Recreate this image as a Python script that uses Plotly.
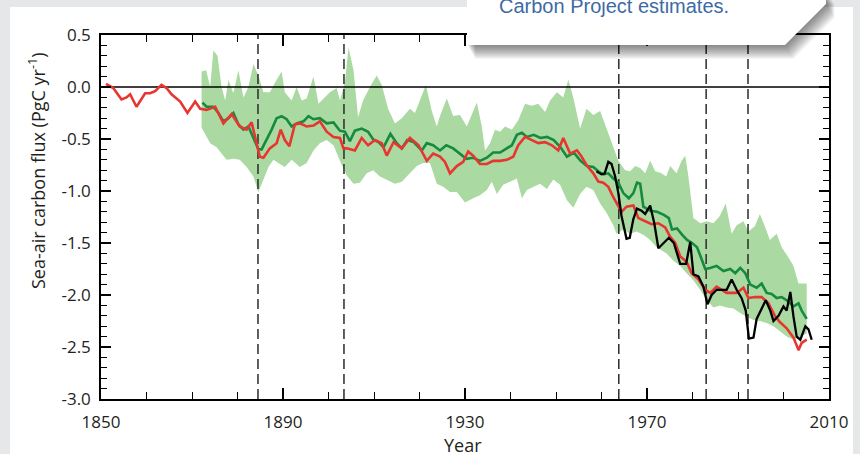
import plotly.graph_objects as go

# ---------------- data ----------------
# Ocean carbon flux estimates (PgC per year, negative = ocean uptake)
red_years = [
    1851.1, 1852.7, 1854.5, 1855.6, 1856.4, 1857.8, 1859.7, 1860.8, 1861.9, 1863.3,
    1864.4, 1865.5, 1867.4, 1869.0, 1870.7, 1871.8, 1873.2, 1875.1, 1876.9, 1878.7,
    1880.5, 1882.0, 1883.1, 1884.2, 1884.9, 1885.7, 1887.1, 1888.6, 1889.5, 1890.4,
    1891.4, 1892.6, 1893.7, 1895.2, 1896.7, 1898.1, 1899.6, 1901.1, 1902.5, 1903.3,
    1904.0, 1905.8, 1907.3, 1908.7, 1910.2, 1911.7, 1912.8, 1914.3, 1916.1, 1917.9,
    1919.8, 1921.6, 1923.0, 1924.5, 1925.6, 1926.7, 1928.2, 1929.6, 1930.7, 1931.8,
    1933.3, 1934.8, 1936.2, 1937.7, 1939.2, 1940.6, 1941.7, 1943.2, 1944.7, 1946.1,
    1947.6, 1949.1, 1950.5, 1951.6, 1953.1, 1954.6, 1955.5, 1956.7, 1958.2, 1959.3,
    1960.4, 1961.5, 1962.6, 1963.7, 1964.4, 1965.5, 1967.0, 1968.1, 1969.6, 1971.0,
    1972.5, 1974.0, 1975.1, 1976.2, 1977.3, 1978.7, 1979.8, 1981.3, 1982.8, 1983.9,
    1985.3, 1987.5, 1989.7, 1991.2, 1992.3, 1993.7, 1995.2, 1996.7, 1998.1, 1999.2,
    2000.7, 2002.2, 2003.3, 2004.0, 2005.1,
]
red_flux = [
    0.03, -0.01, -0.12, -0.10, -0.07, -0.19, -0.06, -0.06, -0.04, 0.02,
    -0.01, -0.07, -0.14, -0.25, -0.14, -0.21, -0.22, -0.19, -0.35, -0.26,
    -0.38, -0.41, -0.34, -0.54, -0.67, -0.68, -0.59, -0.54, -0.41, -0.51,
    -0.57, -0.36, -0.35, -0.38, -0.37, -0.33, -0.43, -0.48, -0.49, -0.59,
    -0.59, -0.61, -0.49, -0.56, -0.51, -0.54, -0.66, -0.53, -0.59, -0.49,
    -0.56, -0.71, -0.64, -0.67, -0.72, -0.83, -0.76, -0.72, -0.62, -0.66,
    -0.74, -0.74, -0.71, -0.71, -0.70, -0.67, -0.56, -0.48, -0.51, -0.54,
    -0.53, -0.56, -0.61, -0.49, -0.64, -0.61, -0.66, -0.75, -0.83, -0.91,
    -0.92, -0.96, -1.06, -1.15, -1.20, -1.15, -1.14, -1.26, -1.29, -1.32,
    -1.31, -1.35, -1.44, -1.50, -1.63, -1.68, -1.79, -1.85, -1.95, -1.98,
    -1.92, -1.98, -1.98, -1.93, -2.03, -2.02, -2.02, -2.08, -2.20, -2.26,
    -2.32, -2.41, -2.53, -2.46, -2.43,
]

green_years = [
    1872.3, 1873.2, 1874.7, 1875.8, 1876.9, 1878.0, 1879.1, 1880.2, 1881.3, 1882.4,
    1883.5, 1884.6, 1885.3, 1886.4, 1887.5, 1888.6, 1889.7, 1890.8, 1891.9, 1893.0,
    1894.5, 1895.6, 1896.7, 1898.1, 1899.6, 1901.1, 1902.5, 1903.6, 1904.7, 1905.8,
    1907.3, 1908.7, 1909.9, 1911.0, 1912.1, 1913.6, 1915.0, 1916.1, 1917.3, 1918.7,
    1920.5, 1921.6, 1923.0, 1924.5, 1925.9, 1927.4, 1928.9, 1930.3, 1931.8, 1933.3,
    1934.8, 1936.2, 1937.7, 1939.2, 1940.3, 1941.4, 1942.5, 1943.6, 1945.1, 1946.6,
    1948.0, 1949.5, 1951.0, 1952.4, 1953.9, 1955.4, 1956.8, 1958.2, 1959.3, 1960.4,
    1961.5, 1962.6, 1963.7, 1964.8, 1966.0, 1967.0, 1967.8, 1968.5, 1969.2, 1970.7,
    1972.2, 1973.7, 1974.8, 1975.5, 1976.6, 1977.7, 1978.8, 1979.9, 1981.0, 1981.7,
    1982.8, 1983.9, 1985.3, 1986.8, 1988.3, 1989.4, 1990.5, 1991.6, 1992.7, 1994.1,
    1995.2, 1996.3, 1997.4, 1998.5, 1999.6, 2000.7, 2002.2, 2003.3, 2004.0, 2005.1,
]
green_flux = [
    -0.15, -0.19, -0.19, -0.25, -0.33, -0.30, -0.25, -0.36, -0.41, -0.38,
    -0.49, -0.60, -0.60, -0.51, -0.41, -0.30, -0.28, -0.31, -0.38, -0.35,
    -0.33, -0.28, -0.31, -0.30, -0.35, -0.34, -0.42, -0.43, -0.52, -0.42,
    -0.40, -0.43, -0.51, -0.53, -0.58, -0.45, -0.54, -0.59, -0.51, -0.53,
    -0.61, -0.54, -0.56, -0.61, -0.56, -0.59, -0.64, -0.69, -0.68, -0.71,
    -0.68, -0.63, -0.63, -0.59, -0.56, -0.46, -0.44, -0.48, -0.46, -0.49,
    -0.48, -0.51, -0.58, -0.67, -0.63, -0.71, -0.76, -0.77, -0.81, -0.84,
    -0.83, -0.88, -0.92, -1.02, -1.07, -1.02, -0.92, -0.93, -1.15, -1.19,
    -1.20, -1.23, -1.26, -1.37, -1.36, -1.42, -1.47, -1.50, -1.54, -1.62,
    -1.75, -1.74, -1.72, -1.77, -1.75, -1.79, -1.74, -1.79, -1.90, -1.93,
    -1.89, -1.98, -1.99, -2.03, -2.02, -2.05, -2.11, -2.08, -2.15, -2.23,
]

black_years = [
    1958.9, 1960.0, 1960.7, 1961.5, 1962.2, 1963.0, 1963.7, 1964.4, 1965.5, 1966.2,
    1967.0, 1967.8, 1968.8, 1969.6, 1970.7, 1971.6, 1972.5, 1973.7, 1974.8, 1975.9,
    1977.3, 1978.6, 1979.5, 1980.2, 1981.3, 1982.4, 1983.3, 1984.2, 1985.3, 1986.8,
    1987.5, 1988.6, 1989.7, 1990.8, 1991.7, 1992.4, 1993.4, 1994.1, 1995.2, 1996.1,
    1997.1, 1997.8, 1998.9, 2000.0, 2000.7, 2001.5, 2002.2, 2002.9, 2003.7, 2004.8,
    2005.5, 2006.2,
]
black_flux = [
    -0.81, -0.84, -0.83, -0.72, -0.74, -0.86, -1.02, -1.24, -1.46, -1.45,
    -1.27, -1.17, -1.19, -1.22, -1.14, -1.31, -1.55, -1.50, -1.45, -1.50,
    -1.70, -1.70, -1.49, -1.80, -1.82, -1.92, -2.09, -2.00, -1.95, -1.95,
    -1.95, -1.85, -1.95, -2.03, -2.15, -2.42, -2.41, -2.23, -2.13, -2.05,
    -2.15, -2.25, -2.20, -2.11, -2.15, -1.97, -2.21, -2.40, -2.43, -2.30,
    -2.33, -2.43,
]

# Spread of the model ensemble (upper and lower envelope)
band_upper_years = [
    1872.1, 1873.1, 1874.0, 1874.7, 1875.6, 1876.5, 1877.3, 1878.0, 1879.1, 1880.2,
    1881.3, 1882.4, 1883.5, 1884.6, 1885.7, 1887.1, 1888.6, 1889.7, 1890.4, 1891.9,
    1893.0, 1894.1, 1895.2, 1896.7, 1897.8, 1898.9, 1900.3, 1901.8, 1902.5, 1903.6,
    1904.4, 1905.5, 1906.5, 1907.6, 1909.1, 1910.6, 1911.7, 1913.1, 1914.6, 1916.1,
    1917.9, 1919.0, 1920.1, 1921.4, 1922.7, 1923.8, 1924.5, 1926.0, 1927.4, 1928.9,
    1930.4, 1931.5, 1932.6, 1933.7, 1934.4, 1935.5, 1936.6, 1937.7, 1938.8, 1940.3,
    1941.7, 1943.2, 1944.7, 1946.1, 1947.6, 1948.7, 1950.2, 1951.6, 1952.7, 1953.8,
    1955.3, 1956.7, 1958.2, 1959.7, 1961.0, 1962.6, 1963.7, 1965.2, 1966.3, 1967.4,
    1968.5, 1969.6, 1970.7, 1971.8, 1973.2, 1974.2, 1975.1, 1976.5, 1977.6, 1978.4,
    1979.1, 1980.2, 1981.7, 1983.1, 1984.6, 1986.0, 1987.3, 1988.6, 1989.7, 1991.2,
    1992.3, 1993.7, 1994.8, 1995.9, 1997.0, 1998.5, 1999.6, 2001.1, 2002.2, 2003.3,
    2005.1,
]
band_upper = [
    0.15, 0.16, 0.00, 0.35, 0.30, 0.00, -0.13, 0.07, -0.06, 0.16,
    -0.10, 0.00, 0.22, 0.11, -0.05, -0.05, 0.07, 0.15, -0.05, -0.13,
    0.00, -0.13, -0.11, 0.10, -0.16, -0.11, -0.05, -0.01, -0.13, 0.04,
    0.38, 0.16, -0.29, -0.13, 0.00, 0.11, 0.02, -0.21, -0.35, -0.30,
    -0.21, -0.25, -0.13, 0.02, -0.23, -0.38, -0.28, -0.11, -0.28, -0.27,
    -0.38, -0.27, -0.15, -0.38, -0.61, -0.54, -0.41, -0.43, -0.38, -0.41,
    -0.32, -0.16, -0.18, -0.16, -0.24, -0.13, -0.05, -0.10, 0.07, -0.10,
    -0.40, -0.21, -0.27, -0.23, -0.39, -0.58, -0.71, -0.80, -0.81, -0.76,
    -0.78, -0.83, -0.71, -0.81, -0.83, -0.86, -0.76, -0.83, -0.71, -0.66,
    -0.86, -1.26, -1.31, -1.29, -1.31, -1.24, -1.12, -1.41, -1.33, -1.29,
    -1.39, -1.34, -1.22, -1.34, -1.47, -1.41, -1.54, -1.64, -1.72, -1.89,
    -1.89,
]
band_lower_years = [
    1872.1, 1873.2, 1874.0, 1875.4, 1876.5, 1877.6, 1879.1, 1880.5, 1882.0, 1883.5,
    1884.6, 1885.7, 1886.8, 1887.9, 1889.3, 1890.4, 1891.9, 1893.7, 1895.2, 1896.7,
    1898.1, 1899.6, 1901.1, 1902.5, 1904.0, 1905.5, 1906.9, 1908.4, 1909.8, 1911.3,
    1912.8, 1914.6, 1916.1, 1917.9, 1919.4, 1920.8, 1922.3, 1923.8, 1925.2, 1926.7,
    1928.2, 1930.0, 1931.8, 1933.3, 1934.8, 1935.9, 1937.0, 1938.4, 1939.9, 1941.4,
    1942.5, 1943.6, 1945.0, 1946.5, 1948.0, 1949.4, 1950.9, 1952.4, 1953.8, 1955.3,
    1956.7, 1958.2, 1959.7, 1961.1, 1962.6, 1963.3, 1964.8, 1966.3, 1967.7, 1969.2,
    1970.7, 1972.1, 1974.3, 1975.8, 1977.3, 1978.7, 1980.2, 1981.7, 1983.1, 1984.6,
    1986.0, 1987.5, 1989.0, 1990.4, 1991.9, 1993.4, 1994.8, 1996.3, 1997.8, 1999.2,
    2000.7, 2002.2, 2003.6, 2005.1,
]
band_lower = [
    -0.39, -0.48, -0.54, -0.58, -0.64, -0.70, -0.69, -0.70, -0.77, -0.86,
    -1.01, -0.89, -0.77, -0.70, -0.74, -0.77, -0.70, -0.77, -0.73, -0.61,
    -0.54, -0.51, -0.56, -0.71, -0.85, -0.93, -0.92, -0.83, -0.80, -0.86,
    -0.89, -0.93, -0.91, -0.83, -0.76, -0.73, -0.73, -0.93, -0.96, -1.01,
    -1.01, -1.11, -1.07, -1.04, -0.99, -0.91, -1.03, -0.94, -0.91, -0.88,
    -1.07, -0.99, -0.96, -0.93, -0.98, -0.89, -0.94, -1.09, -1.16, -1.03,
    -0.96, -0.99, -1.12, -1.21, -1.33, -1.41, -1.37, -1.41, -1.39, -1.42,
    -1.47, -1.54, -1.60, -1.67, -1.72, -1.79, -1.86, -1.95, -2.05, -2.12,
    -2.10, -2.12, -2.13, -2.17, -2.21, -2.24, -2.25, -2.27, -2.30, -2.35,
    -2.40, -2.43, -2.40, -2.37,
]

# Major volcanic eruptions marked with dashed lines
eruption_years = [1884.5, 1903.4, 1963.8, 1983.0, 1992.2]

x_range = [1850, 2010]
y_range = [-3.0, 0.5]
x_tick_vals = [1850, 1890, 1930, 1970, 2010]
x_tick_text = ["1850", "1890", "1930", "1970", "2010"]
y_tick_vals = [0.5, 0.0, -0.5, -1.0, -1.5, -2.0, -2.5, -3.0]
y_tick_text = ["0.5", "0.0", "-0.5", "-1.0", "-1.5", "-2.0", "-2.5", "-3.0"]

# ---------------- figure geometry ----------------
W, H = 860, 454
ML, MR, MT, MB = 101, 31, 35, 55
PW = W - ML - MR
PH = H - MT - MB


def fx(px):
    """Horizontal page pixel -> paper fraction."""
    return (px - ML) / PW


def fy(py):
    """Vertical page pixel (from top) -> paper fraction."""
    return (H - MB - py) / PH


RED = "#e8352f"
GREEN = "#168a3e"
BAND = "#aad9a2"
FONT = "Open Sans"

fig = go.Figure()

# ensemble envelope
fig.add_trace(go.Scatter(
    x=band_upper_years + band_lower_years[::-1],
    y=band_upper + band_lower[::-1],
    fill="toself", fillcolor=BAND, line=dict(width=0),
    mode="lines", hoverinfo="skip",
))

# eruption markers
for yr in eruption_years:
    fig.add_trace(go.Scatter(
        x=[yr, yr], y=y_range, mode="lines",
        line=dict(color="#2b2b2b", width=1.5, dash="10px,5px"),
        hoverinfo="skip",
    ))

# zero reference line
fig.add_trace(go.Scatter(
    x=x_range, y=[0, 0], mode="lines",
    line=dict(color="black", width=1.5), hoverinfo="skip",
))

fig.add_trace(go.Scatter(x=green_years, y=green_flux, mode="lines",
                         line=dict(color=GREEN, width=2.6)))
fig.add_trace(go.Scatter(x=red_years, y=red_flux, mode="lines",
                         line=dict(color=RED, width=2.6)))
fig.add_trace(go.Scatter(x=black_years, y=black_flux, mode="lines",
                         line=dict(color="black", width=2.3)))

axis_common = dict(
    ticks="inside", tickwidth=1.5, tickcolor="black",
    showline=True, linecolor="black", linewidth=1.5, mirror="ticks",
    showgrid=False, zeroline=False, tickmode="array",
    tickfont=dict(family=FONT, size=17, color="#231f20"),
)
fig.update_xaxes(
    range=x_range, tickvals=x_tick_vals, ticktext=x_tick_text, ticklen=11,
    ticklabelstandoff=7,
    minor=dict(tickmode="linear", tick0=1850, dtick=10, ticks="inside",
               ticklen=7, tickwidth=1.3, tickcolor="black", showgrid=False),
    **axis_common,
)
fig.update_yaxes(
    range=y_range, tickvals=y_tick_vals, ticktext=y_tick_text, ticklen=10,
    ticklabelstandoff=5,
    minor=dict(tickmode="linear", tick0=0, dtick=0.1, ticks="inside",
               ticklen=6, tickwidth=1.3, tickcolor="black", showgrid=False),
    **axis_common,
)

# white page panel and the callout box with its drop shadow
shapes = [dict(
    type="rect", xref="paper", yref="paper", layer="below",
    x0=fx(10), x1=fx(853), y0=fy(H + 5), y1=fy(7),
    fillcolor="white", line=dict(width=0),
)]

box_pts = [(467, -10), (467, 45), (785, 45), (826, 4), (826, -10)]


def box_path(dx, dy):
    pts = [(fx(x + dx), fy(y + dy)) for x, y in box_pts]
    return "M " + " L ".join(f"{a:.5f},{b:.5f}" for a, b in pts) + " Z"


for k in range(1, 15):
    shapes.append(dict(
        type="path", xref="paper", yref="paper", layer="above",
        path=box_path(0.6 * k, k), fillcolor="black", opacity=0.04,
        line=dict(width=0),
    ))
shapes.append(dict(
    type="path", xref="paper", yref="paper", layer="above",
    path=box_path(0, 0), fillcolor="white", line=dict(width=0),
))

annotations = [
    dict(text="Carbon Project estimates.", xref="paper", yref="paper",
         x=fx(497), y=fy(6), xanchor="left", yanchor="middle", showarrow=False,
         font=dict(family="Liberation Sans", size=20, color="#3d6ba3")),
    dict(text="Sea-air carbon flux (PgC yr<sup>-1</sup>)", xref="paper", yref="paper",
         x=fx(37), y=fy(171), xanchor="center", yanchor="middle", textangle=-90,
         showarrow=False, font=dict(family=FONT, size=18, color="#231f20")),
    dict(text="Year", xref="paper", yref="paper",
         x=fx(463), y=fy(445), xanchor="center", yanchor="middle",
         showarrow=False, font=dict(family=FONT, size=18, color="#231f20")),
]

fig.update_layout(
    width=W, height=H,
    margin=dict(l=ML, r=MR, t=MT, b=MB, autoexpand=False),
    paper_bgcolor="#e6e7e9", plot_bgcolor="white",
    showlegend=False, shapes=shapes, annotations=annotations,
    font=dict(family=FONT, size=17, color="#231f20"),
)

fig.write_html("out.html")
